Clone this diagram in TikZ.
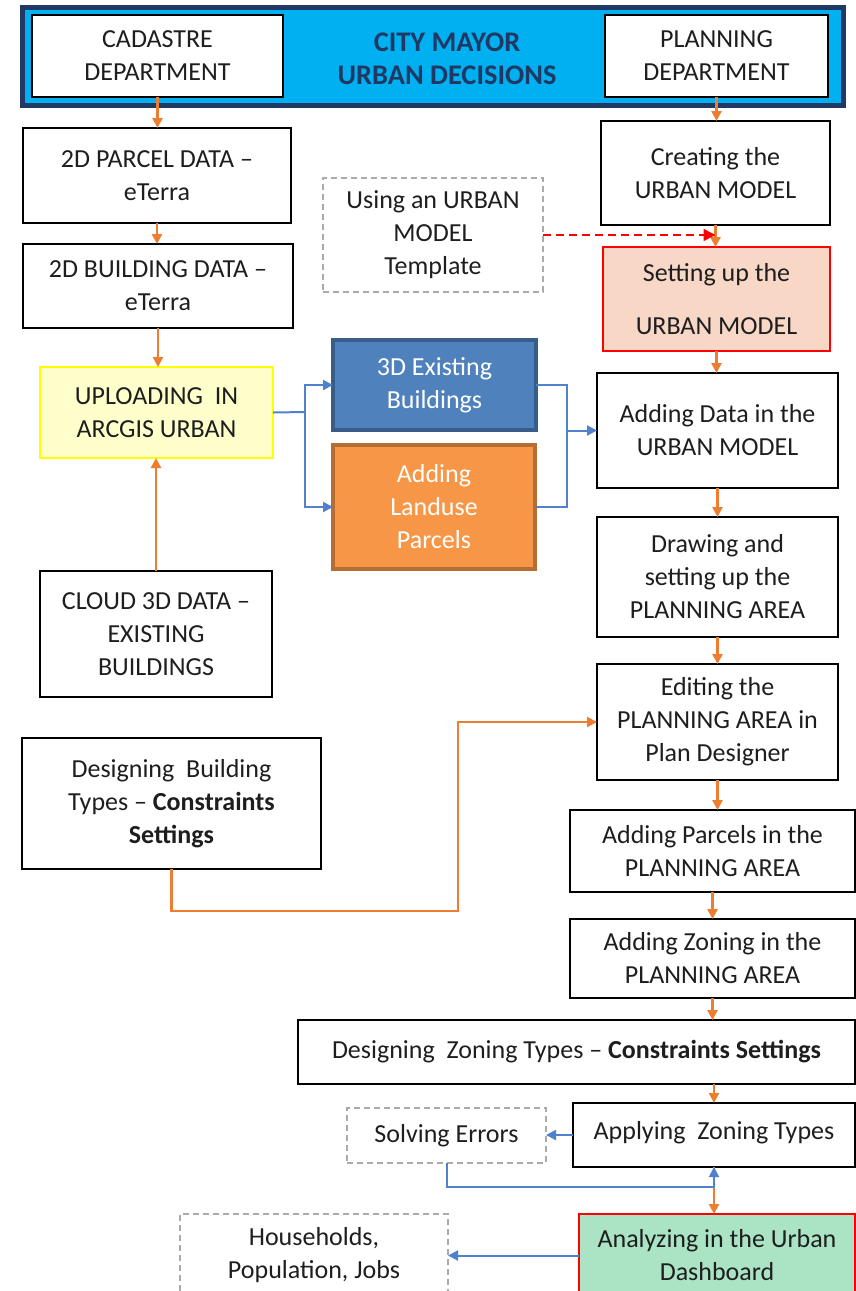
\documentclass[tikz,border=0pt]{standalone}
\usepackage{fontspec}
\setmainfont{Carlito}
\usetikzlibrary{arrows.meta,calc}
\definecolor{oline}{RGB}{237,125,49}
\definecolor{bline}{RGB}{79,129,205}
\definecolor{navy}{RGB}{31,56,100}
\definecolor{cyanfill}{RGB}{0,176,240}
\definecolor{bluefill}{RGB}{79,129,189}
\definecolor{blueedge}{RGB}{56,93,138}
\definecolor{orfill}{RGB}{247,150,70}
\definecolor{oredge}{RGB}{182,109,49}
\definecolor{yelfill}{RGB}{255,255,204}
\definecolor{yeledge}{RGB}{255,255,0}
\definecolor{peach}{RGB}{248,215,198}
\definecolor{mint}{RGB}{170,228,196}
\definecolor{dgray}{RGB}{170,170,170}
\definecolor{txt}{RGB}{30,30,30}
\newcommand{\mybox}[7]{\node[#6, minimum width={(#4-#2)*0.5pt}, minimum height={(#5-#3)*0.5pt}] (#1) at ({(#2+#4)/2},{(#3+#5)/2}) {#7};}
\tikzset{
  base/.style={align=center, inner sep=0pt, outer sep=0pt, text=txt, font=\fontsize{13pt}{16.5pt}\selectfont},
  plainbox/.style={base, draw=black, line width=0.8pt, fill=white},
  dashbox/.style={base, draw=dgray, line width=0.6pt, dash pattern=on 3pt off 2pt},
  yelbox/.style={base, draw=yeledge, line width=0.8pt, fill=yelfill},
  peachbox/.style={base, draw=red, line width=0.8pt, fill=peach},
  mintbox/.style={base, draw=red, line width=0.8pt, fill=mint},
  bluebox/.style={base, draw=blueedge, line width=2pt, fill=bluefill, text=white},
  orbox/.style={base, draw=oredge, line width=2pt, fill=orfill, text=white},
  banner/.style={draw=navy, line width=2.5pt, fill=cyanfill, inner sep=0pt, outer sep=0pt},
  oarr/.style={draw=oline, line width=1.4pt, -{Triangle[length=5pt,width=5pt]}},
  barr/.style={draw=bline, line width=1pt, -{Triangle[length=5pt,width=5pt]}},
  bl/.style={draw=bline, line width=1pt},
  rarr/.style={draw=red, line width=0.8pt, dash pattern=on 4pt off 2.5pt, -{Triangle[length=6pt,width=6pt]}}
}
\begin{document}
\begin{tikzpicture}[x=0.5pt,y=-0.5pt]
\useasboundingbox (0,0) rectangle (856,1291);
% banner
\mybox{ban}{22}{7}{843}{105}{banner}{}
\mybox{cad}{32}{15}{283}{97}{plainbox}{CADASTRE\\DEPARTMENT}
\mybox{plan}{605}{15}{828}{97}{plainbox}{PLANNING\\DEPARTMENT}
\node[base, text=navy, font=\fontsize{14.2pt}{16.5pt}\selectfont\bfseries] (mayor) at (447,59) {CITY MAYOR\\URBAN DECISIONS};
% left column
\mybox{p2d}{23}{128}{291}{223}{plainbox}{2D PARCEL DATA –\\eTerra}
\mybox{b2d}{23}{244}{293}{328}{plainbox}{2D BUILDING DATA –\\eTerra}
\mybox{upl}{40}{367}{273}{458}{yelbox}{UPLOADING~~IN\\ARCGIS URBAN}
\mybox{cloud}{40}{571}{272}{697}{plainbox}{CLOUD 3D DATA –\\EXISTING\\BUILDINGS}
\mybox{dbt}{22}{738}{321}{869}{plainbox}{Designing~~Building\\Types – \textbf{Constraints}\\\textbf{Settings}}
% middle
\mybox{tmpl}{323}{178}{543}{292}{dashbox}{Using an URBAN\\MODEL\\Template}
\mybox{b3d}{333}{340}{536}{430}{bluebox}{3D Existing\\Buildings}
\mybox{land}{333}{445}{535}{569}{orbox}{Adding\\Landuse\\Parcels}
% right column
\mybox{creat}{601}{121}{830}{225}{plainbox}{Creating the\\URBAN MODEL}
\mybox{setup}{603}{247}{830}{351}{peachbox}{Setting up the\\[10pt]URBAN MODEL}
\mybox{adddata}{597}{373}{838}{488}{plainbox}{Adding Data in the\\URBAN MODEL}
\mybox{drawpa}{597}{517}{838}{637}{plainbox}{Drawing and\\setting up the\\PLANNING AREA}
\mybox{edit}{597}{664}{838}{780}{plainbox}{Editing the\\PLANNING AREA in\\Plan Designer}
\mybox{parcels}{570}{810}{855}{892}{plainbox}{Adding Parcels in the\\PLANNING AREA}
\mybox{zoning}{570}{919}{855}{998}{plainbox}{Adding Zoning in the\\PLANNING AREA}
\mybox{dzt}{298}{1020}{855}{1084}{plainbox}{Designing~~Zoning Types – \textbf{Constraints Settings}}
\mybox{apply}{573}{1103}{855}{1167}{plainbox}{\raisebox{5pt}{Applying~~Zoning Types}}
\mybox{solve}{347}{1108}{546}{1163}{dashbox}{Solving Errors}
\mybox{analyze}{579}{1214}{855}{1297}{mintbox}{Analyzing in the Urban\\Dashboard}
\mybox{house}{180}{1214}{448}{1297}{dashbox}{Households,\\Population, Jobs}
% junction coordinates
\coordinate (jl) at (305,412);
\coordinate (jr) at (567,430);
\coordinate (jo) at (458,911);
% orange arrows left
\draw[oarr] (cad.south) -- (cad.south |- p2d.north);
\draw[oarr] (p2d.south) -- (p2d.south |- b2d.north);
\draw[oarr] (b2d.south) -- (b2d.south |- upl.north);
\draw[oarr] (cloud.north) -- (cloud.north |- upl.south);
% orange arrows right
\draw[oarr] (plan.south) -- (plan.south |- creat.north);
\draw[oarr] (creat.south) -- (creat.south |- setup.north);
\draw[oarr] (setup.south) -- (setup.south |- adddata.north);
\draw[oarr] (adddata.south) -- (adddata.south |- drawpa.north);
\draw[oarr] (drawpa.south) -- (drawpa.south |- edit.north);
\draw[oarr] (edit.south) -- (edit.south |- parcels.north);
\draw[oarr] (parcels.south) -- (parcels.south |- zoning.north);
\draw[oarr] (zoning.south) -- (zoning.south |- dzt.north);
\draw[oarr] (apply.north |- dzt.south) -- (apply.north);
\draw[oarr] (apply.south) -- (apply.south |- analyze.north);
\draw[oarr] (dbt.south) |- (jo) |- (edit.west);
% red dashed
\draw[rarr] (tmpl.east) -- (tmpl.east -| creat.south);
% blue connectors
\draw[bl] (upl.east) -- (jl);
\draw[barr] (jl) |- (b3d.west);
\draw[barr] (jl) |- (land.west);
\draw[bl] (b3d.east) -| (jr) |- (land.east);
\draw[barr] (jr |- adddata.west) -- (adddata.west);
\draw[barr] (apply.west) -- (apply.west -| solve.east);
\draw[barr] (solve.south) -- ++(0,24) -| (apply.south);
\draw[barr] (analyze.west) -- (analyze.west -| house.east);
\end{tikzpicture}
\end{document}
